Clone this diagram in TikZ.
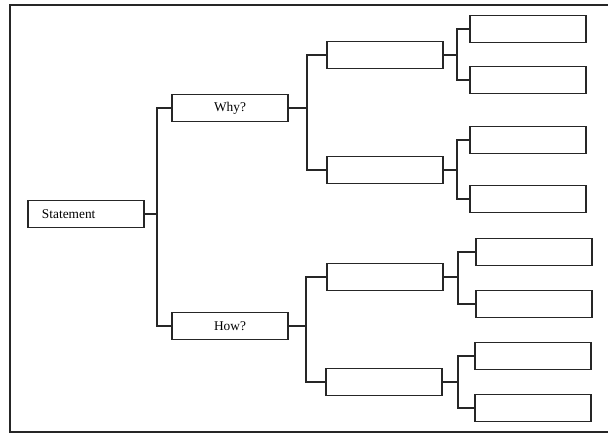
\documentclass[tikz,border=0pt]{standalone}
\usepackage{fontspec}
\setmainfont{Liberation Serif}
\usetikzlibrary{positioning, calc}

\begin{document}
\begin{tikzpicture}[
    x=0.025cm, y=-0.025cm,
    font=\fontsize{9.5}{11}\selectfont,
    % Define styles
    box/.style={rectangle, draw=black!85, line width=0.9pt, minimum width=2.9cm, minimum height=0.68cm, inner sep=2pt},
    stmtbox/.style={box, text width=2.2cm, inner xsep=0.35cm, align=left},
    link/.style={draw=black!85, line width=0.8pt},
    frame/.style={draw=black!85, line width=1.5pt}
]
\useasboundingbox (0,0) rectangle (608,437);

% Frame (open at the right)
\draw[frame] (608,5) -- (10,5) -- (10,432) -- (608,432);

% 1. Statement and the two questions
\node[stmtbox] (stmt) at (86,214) {Statement};
\node[box] (why) at (230,108) {Why?};
\node[box] (how) at (230,326) {How?};

% 2. Second level
\node[box] (why1) at (385,55) {};
\node[box] (why2) at (385,170) {};
\node[box] (how1) at (385,277) {};
\node[box] (how2) at (384,382) {};

% 3. Third level
\node[box] (why11) at (528,29) {};
\node[box] (why12) at (528,80) {};
\node[box] (why21) at (528,140) {};
\node[box] (why22) at (528,199) {};
\node[box] (how11) at (534,252) {};
\node[box] (how12) at (534,304) {};
\node[box] (how21) at (533,356) {};
\node[box] (how22) at (533,408) {};

% Junction points
\coordinate (j0) at (157,214);
\coordinate (jw) at (307,108);
\coordinate (jh) at (306,326);
\coordinate (jw1) at (457,55);
\coordinate (jw2) at (457,170);
\coordinate (jh1) at (458,277);
\coordinate (jh2) at (458,382);

% Connections
\draw[link] (stmt.east) -- (j0);
\draw[link] (why.west) -| (j0) |- (how.west);

\draw[link] (why.east) -- (jw);
\draw[link] (why1.west) -| (jw) |- (why2.west);
\draw[link] (how.east) -- (jh);
\draw[link] (how1.west) -| (jh) |- (how2.west);

\draw[link] (why1.east) -- (jw1);
\draw[link] (why11.west) -| (jw1) |- (why12.west);
\draw[link] (why2.east) -- (jw2);
\draw[link] (why21.west) -| (jw2) |- (why22.west);
\draw[link] (how1.east) -- (jh1);
\draw[link] (how11.west) -| (jh1) |- (how12.west);
\draw[link] (how2.east) -- (jh2);
\draw[link] (how21.west) -| (jh2) |- (how22.west);

\end{tikzpicture}
\end{document}
